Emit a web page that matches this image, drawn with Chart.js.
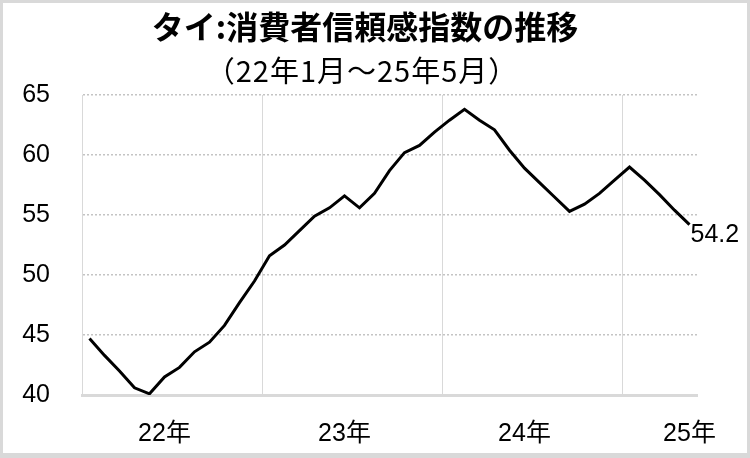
<!DOCTYPE html>
<html lang="ja">
<head>
<meta charset="utf-8">
<script src="https://cdn.jsdelivr.net/npm/chart.js@4.4.1/dist/chart.umd.min.js"></script>
<style>
  html, body { margin: 0; padding: 0; background: #fff; }
  #frame {
    position: absolute; left: 0; top: 0;
    width: 750px; height: 458px; box-sizing: border-box;
    border: 3px solid #d9d9d9; border-bottom-width: 5px; background: #fff;
  }
  #cciChart { display: block; }
</style>
</head>
<body>
<div id="frame"><canvas id="cciChart" width="744" height="450"></canvas></div>
<script>
// Monthly categories, Jan 2022 - May 2025
const months = [
  '22/1', '22/2', '22/3', '22/4', '22/5', '22/6', '22/7', '22/8', '22/9', '22/10', '22/11', '22/12',
  '23/1', '23/2', '23/3', '23/4', '23/5', '23/6', '23/7', '23/8', '23/9', '23/10', '23/11', '23/12',
  '24/1', '24/2', '24/3', '24/4', '24/5', '24/6', '24/7', '24/8', '24/9', '24/10', '24/11', '24/12',
  '25/1', '25/2', '25/3', '25/4', '25/5'
];

// Consumer confidence index
const cci = [
  44.7, 43.3, 42.0, 40.6, 40.1, 41.5, 42.3, 43.6, 44.4, 45.8, 47.7, 49.5,
  51.6, 52.5, 53.7, 54.9, 55.6, 56.6, 55.6, 56.8, 58.7, 60.2, 60.8, 61.9,
  62.9, 63.8, 62.9, 62.1, 60.4, 58.9, 57.7, 56.5, 55.3, 55.9, 56.8, 57.9,
  59.0, 57.9, 56.7, 55.4, 54.2
];

// Year labels and where they sit on the month axis
const yearLabels = ['22年', '23年', '24年', '25年'];
const yearLabelIndex = [5, 17, 29, 40];
const yearStartIndex = [12, 24, 36];

const titleText = 'タイ:消費者信頼感指数の推移';
const subtitleText = '（22年1月～25年5月）';

const tickFont = { family: "'Liberation Sans', 'Noto Sans CJK JP', sans-serif", size: 25 };

// title + subtitle, centred a bit left of the canvas middle like the original
const headerText = {
  id: 'headerText',
  afterDraw(chart) {
    const ctx = chart.ctx;
    ctx.save();
    ctx.fillStyle = '#000';
    ctx.textAlign = 'center';
    ctx.textBaseline = 'middle';
    ctx.font = "bold 32px 'Noto Sans CJK JP', sans-serif";
    ctx.fillText(titleText, 362, 24);
    ctx.font = "29px 'Noto Sans CJK JP', sans-serif";
    ctx.letterSpacing = '1px';
    ctx.fillText(subtitleText, 359, 68);
    ctx.restore();
  }
};

// value label at the last point
const lastValueLabel = {
  id: 'lastValueLabel',
  afterDatasetsDraw(chart) {
    const meta = chart.getDatasetMeta(0);
    const i = cci.length - 1;
    const pt = meta.data[i];
    const ctx = chart.ctx;
    ctx.save();
    ctx.font = "25px 'Liberation Sans', sans-serif";
    ctx.fillStyle = '#000';
    ctx.textAlign = 'left';
    ctx.textBaseline = 'middle';
    ctx.fillText(cci[i].toFixed(1), pt.x + 1, pt.y + 11);
    ctx.restore();
  }
};

new Chart(document.getElementById('cciChart'), {
  type: 'line',
  data: {
    labels: months,
    datasets: [{
      data: cci,
      borderColor: '#000',
      borderWidth: 3,
      pointRadius: 0,
      tension: 0,
      fill: false
    }]
  },
  options: {
    responsive: false,
    animation: false,
    events: [],
    layout: { padding: { left: 16, right: 50, top: 92, bottom: 4 } },
    plugins: {
      legend: { display: false },
      tooltip: { enabled: false },
      title: { display: false }
    },
    scales: {
      x: {
        offset: true,
        afterFit: s => { s.height = 54; },
        grid: {
          offset: true,
          drawTicks: false,
          lineWidth: 1,
          color: ctx => yearStartIndex.includes(ctx.index) ? '#d9d9d9' : 'rgba(0,0,0,0)'
        },
        border: { display: true, color: '#d9d9d9', width: 3 },
        ticks: {
          autoSkip: false,
          maxRotation: 0,
          minRotation: 0,
          padding: 24,
          color: '#000',
          font: tickFont,
          callback: (v, i) => {
            const k = yearLabelIndex.indexOf(i);
            return k >= 0 ? yearLabels[k] : '';
          }
        }
      },
      y: {
        min: 40,
        max: 65,
        afterFit: s => { s.width = 63; },
        grid: {
          drawTicks: false,
          color: '#c4c4c4',
          lineWidth: 1.5
        },
        // in v4 border.dash styles the grid lines: dotted horizontals
        border: { display: true, color: '#d9d9d9', width: 1, dash: [2, 2] },
        ticks: {
          stepSize: 5,
          padding: 32,
          color: '#000',
          font: tickFont
        }
      }
    }
  },
  plugins: [lastValueLabel, headerText]
});
</script>
</body>
</html>
